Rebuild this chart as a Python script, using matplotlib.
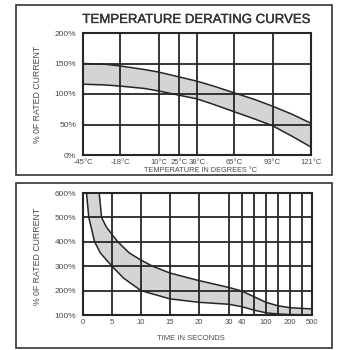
import numpy as np
import matplotlib
matplotlib.use("Agg")
import matplotlib.pyplot as plt
import matplotlib.patheffects as pe
from matplotlib.patches import Rectangle

plt.rcParams['font.family'] = ['Liberation Sans', 'DejaVu Sans']

# temperature derating (top chart)
temp_ticks = [-45, -18, 10, 25, 38, 65, 93, 121]
temp_labels = ['-45°C', '-18°C', '10°C', '25°C', '38°C', '65°C', '93°C', '121°C']
temp_x = [-45, -30, -18, 0, 10, 25, 38, 50, 65, 80, 93, 107, 121]
temp_hi = [150, 149, 146, 140, 136, 128, 121, 113, 102, 91, 80, 67, 52]
temp_lo = [116, 115, 113, 109, 105, 98, 92, 83, 71, 59, 48, 31, 13]
pct_ticks = [0, 50, 100, 150, 200]

# overload time (bottom chart)
time_ticks = [0, 5, 10, 15, 20, 30, 40, 100, 200, 500]
time_minor = [60, 150, 300]
up_t = [2.8, 3.2, 4, 5, 6, 8, 10, 12, 15, 20, 30, 40, 60, 100, 150, 200, 300, 500]
up_v = [600, 500, 462, 430, 400, 354, 325, 300, 272, 241, 213, 198, 175, 152, 138, 130, 127, 125]
lo_t = [0.6, 1, 2, 3, 5, 7, 10, 15, 20, 30, 40, 60, 100, 150, 200, 300, 500]
lo_v = [600, 500, 400, 354, 300, 251, 200, 166, 152, 144, 134, 120, 109, 104, 102, 101, 101]
load_ticks = [100, 200, 300, 400, 500, 600]

# time axis is stretched by hand: linear up to 20 s, compressed after
knot_t = np.array([0, 5, 10, 15, 20, 30, 40, 60, 100, 150, 200, 300, 500], float)
knot_p = np.array([0, 1, 2, 3, 4, 5.03, 5.48, 5.9, 6.31, 6.72, 7.14, 7.55, 7.9])

def fwd(t):
    return np.interp(t, knot_t, knot_p)

def inv(p):
    return np.interp(p, knot_p, knot_t)

line_c = '#262626'
fill_c = '#d4d4d4'
text_c = '#4a4a4a'

fig = plt.figure(figsize=(3.5, 3.5), dpi=100)
W = H = 350.0

def fx(px):
    return px / W

def fy(py):
    return 1 - py / H

# outer frames
for (x0, y0, x1, y1) in [(16, 5, 332, 175), (16, 183, 332, 348)]:
    fig.patches.append(Rectangle((fx(x0), fy(y1)), fx(x1 - x0), (y1 - y0) / H,
                                 transform=fig.transFigure, fill=False,
                                 edgecolor='#333333', linewidth=1.2))

def style(ax):
    for s in ax.spines.values():
        s.set_color(line_c)
        s.set_linewidth(1.5)
    ax.grid(True, which='both', color=line_c, linewidth=1.3)
    ax.set_axisbelow(False)
    ax.tick_params(which='both', length=0, colors=text_c, labelsize=5.5)
    ax.tick_params(axis='y', pad=5, labelsize=6)

# top chart
ax1 = fig.add_axes([fx(83), fy(155), fx(311 - 83), 122 / H])
ax1.fill_between(temp_x, temp_lo, temp_hi, color=fill_c, linewidth=0, zorder=1)
ax1.plot(temp_x, temp_hi, color=line_c, linewidth=1.1, zorder=3)
ax1.plot(temp_x, temp_lo, color=line_c, linewidth=1.1, zorder=3)
ax1.set_xlim(-45, 121)
ax1.set_ylim(0, 200)
ax1.set_xticks(temp_ticks)
ax1.set_xticklabels(temp_labels)
ax1.set_yticks(pct_ticks)
ax1.set_yticklabels([f'{v}%' for v in pct_ticks])
style(ax1)
ax1.tick_params(axis='x', pad=3)

fig.text(fx(197), fy(20), 'TEMPERATURE DERATING CURVES', ha='center', va='center',
         fontsize=9.5, color='#333333',
         path_effects=[pe.withStroke(linewidth=0.25, foreground='#333333')])
fig.text(fx(200), fy(171), 'TEMPERATURE IN DEGREES °C', ha='center', va='center',
         fontsize=5.3, color=text_c)
fig.text(fx(37), fy(94), '% 0F RATED CURRENT', rotation=90, ha='center', va='center',
         fontsize=6.3, color=text_c)

# bottom chart
ax2 = fig.add_axes([fx(83), fy(315), fx(312 - 83), 122 / H])
ax2.set_xscale('function', functions=(fwd, inv))
ax2.fill(np.concatenate([up_t, lo_t[::-1]]), np.concatenate([up_v, lo_v[::-1]]),
         color=fill_c, linewidth=0, zorder=1)
ax2.plot(up_t, up_v, color=line_c, linewidth=1.1, zorder=3)
ax2.plot(lo_t, lo_v, color=line_c, linewidth=1.1, zorder=3)
ax2.set_xlim(0, 500)
ax2.set_ylim(100, 600)
ax2.set_xticks(time_ticks)
ax2.set_xticklabels([str(t) for t in time_ticks])
ax2.set_xticks(time_minor, minor=True)
ax2.set_yticks(load_ticks)
ax2.set_yticklabels([f'{v}%' for v in load_ticks])
style(ax2)
ax2.tick_params(axis='x', pad=3)

fig.text(fx(191), fy(338), 'TIME IN SECONDS', ha='center', va='center',
         fontsize=5.5, color=text_c)
fig.text(fx(38), fy(256), '% 0F RATED CURRENT', rotation=90, ha='center', va='center',
         fontsize=6.3, color=text_c)

fig.savefig('out.png', dpi=100, facecolor='white')
